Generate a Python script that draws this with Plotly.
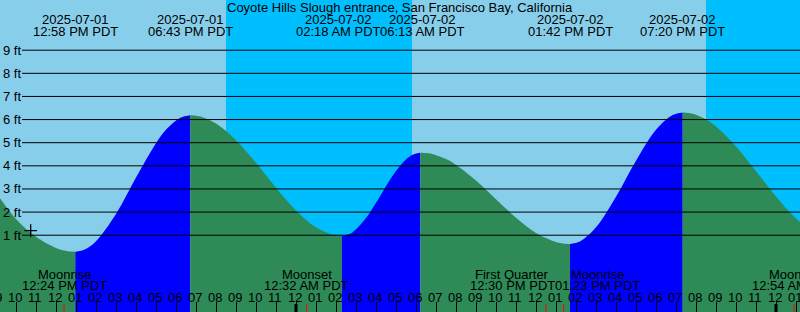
import pandas as pd
import plotly.graph_objects as go

TITLE = "Coyote Hills Slough entrance, San Francisco Bay, California"

# Tide height readings (ft) taken off the chart
tide_times = [
    "2025-07-01 09:00", "2025-07-01 10:00", "2025-07-01 11:00", "2025-07-01 12:00",
    "2025-07-01 12:28", "2025-07-01 12:58", "2025-07-01 13:28", "2025-07-01 14:00",
    "2025-07-01 15:00", "2025-07-01 16:00", "2025-07-01 17:00", "2025-07-01 17:30",
    "2025-07-01 18:13", "2025-07-01 18:43", "2025-07-01 19:13", "2025-07-01 20:00",
    "2025-07-01 21:00", "2025-07-01 22:00", "2025-07-01 23:00", "2025-07-02 00:00",
    "2025-07-02 01:00", "2025-07-02 01:48", "2025-07-02 02:18", "2025-07-02 02:48",
    "2025-07-02 03:30", "2025-07-02 04:00", "2025-07-02 05:00", "2025-07-02 05:43",
    "2025-07-02 06:13", "2025-07-02 06:43", "2025-07-02 07:30", "2025-07-02 08:00",
    "2025-07-02 09:00", "2025-07-02 10:00", "2025-07-02 11:00", "2025-07-02 12:00",
    "2025-07-02 13:12", "2025-07-02 13:42", "2025-07-02 14:12", "2025-07-02 15:00",
    "2025-07-02 16:00", "2025-07-02 17:00", "2025-07-02 18:00", "2025-07-02 18:50",
    "2025-07-02 19:20", "2025-07-02 19:50", "2025-07-02 20:30", "2025-07-02 21:00",
    "2025-07-02 22:00", "2025-07-02 23:00", "2025-07-03 00:00", "2025-07-03 01:00",
    "2025-07-03 02:00",
]
tide_heights = [
    2.85, 1.70, 0.93, 0.45,
    0.33, 0.28, 0.39, 0.74,
    1.92, 3.49, 4.98, 5.56,
    6.08, 6.19, 6.13, 5.83,
    5.11, 4.13, 3.05, 2.07,
    1.34, 1.03, 0.97, 1.11,
    1.74, 2.40, 3.78, 4.43,
    4.57, 4.53, 4.29, 4.04,
    3.37, 2.56, 1.76, 1.10,
    0.66, 0.62, 0.73, 1.34,
    2.66, 4.22, 5.56, 6.20,
    6.31, 6.25, 6.00, 5.70,
    4.84, 3.77, 2.67, 1.72,
    1.09,
]

# High / low tide events
extreme_times = ["2025-07-01 12:58", "2025-07-01 18:43", "2025-07-02 02:18",
                 "2025-07-02 06:13", "2025-07-02 13:42", "2025-07-02 19:20"]
extreme_dates = ["2025-07-01", "2025-07-01", "2025-07-02",
                 "2025-07-02", "2025-07-02", "2025-07-02"]
extreme_labels = ["12:58 PM PDT", "06:43 PM PDT", "02:18 AM PDT",
                  "06:13 AM PDT", "01:42 PM PDT", "07:20 PM PDT"]
extreme_shift = [0, 0, -4, 2, 0, 0]

# Night periods (sunset -> sunrise / end of chart)
night_start = ["2025-07-01 20:30", "2025-07-02 20:30"]
night_end = ["2025-07-02 05:48", "2025-07-03 01:12"]

# Moon events
moon_times = ["2025-07-01 12:24", "2025-07-02 00:32", "2025-07-02 12:30",
              "2025-07-02 13:23", "2025-07-03 00:54"]
moon_names = ["Moonrise", "Moonset", "First Quarter", "Moonrise", "Moonset"]
moon_labels = ["12:24 PM PDT", "12:32 AM PDT", "12:30 PM PDT",
               "01:23 PM PDT", "12:54 AM PDT"]
moon_shift = [0, 0, -34, 34, 0]

midnights = ["2025-07-02 00:00", "2025-07-03 00:00"]
marker_time = ["2025-07-01 10:44"]
marker_height = [1.2]

ft_levels = [1, 2, 3, 4, 5, 6, 7, 8, 9]
ft_labels = ["1 ft", "2 ft", "3 ft", "4 ft", "5 ft", "6 ft", "7 ft", "8 ft", "9 ft"]

hour_ticks_start = "2025-07-01 09:00"
hour_ticks_end = "2025-07-03 01:00"

X_RANGE = ["2025-07-01 09:12", "2025-07-03 01:12"]
Y_RANGE = [-2.32, 11.17]

DAY = "#87CEEB"
NIGHT = "#00BFFF"
EBB = "#2E8B57"
FLOOD = "#0000FF"
FONT = "Liberation Sans, Arial, sans-serif"
FS = 13

# ---- build curve segments (split at each high / low) ----
pts = pd.DataFrame({"t": pd.to_datetime(tide_times), "h": tide_heights})
ext_t = set(pd.to_datetime(extreme_times))
ext_idx = [i for i, t in enumerate(pts["t"]) if t in ext_t]
bounds = [0] + ext_idx + [len(pts) - 1]

fig = go.Figure()
for i in range(len(bounds) - 1):
    seg = pts.iloc[bounds[i]:bounds[i + 1] + 1]
    rising = seg["h"].iloc[-1] > seg["h"].iloc[0]
    color = FLOOD if rising else EBB
    fig.add_trace(go.Scatter(
        x=[seg["t"].iloc[0], seg["t"].iloc[-1]], y=[-5, -5],
        mode="lines", line=dict(width=0, color=color), hoverinfo="skip"))
    fig.add_trace(go.Scatter(
        x=seg["t"], y=seg["h"], mode="lines",
        line=dict(width=0, color=color, shape="spline", smoothing=1.0),
        fill="tonexty", fillcolor=color, hoverinfo="skip"))

fig.add_trace(go.Scatter(
    x=marker_time, y=marker_height, mode="markers",
    marker=dict(symbol="cross-thin", size=9, line=dict(width=1.3, color="black")),
    hoverinfo="skip"))

shapes = []
for s, e in zip(night_start, night_end):
    shapes.append(dict(type="rect", xref="x", yref="paper", x0=s, x1=e, y0=0, y1=1,
                       fillcolor=NIGHT, line=dict(width=0), layer="below"))
for lv in ft_levels:
    shapes.append(dict(type="line", xref="paper", yref="y", x0=22 / 800, x1=1, y0=lv, y1=lv,
                       line=dict(color="black", width=1), layer="above"))
for m in midnights:
    shapes.append(dict(type="line", xref="x", yref="paper", x0=m, x1=m, y0=0, y1=8 / 312,
                       line=dict(color="black", width=3), layer="above"))
for m in moon_times:
    shapes.append(dict(type="line", xref="x", yref="paper", x0=m, x1=m, y0=0, y1=8 / 312,
                       line=dict(color="red", width=1), layer="above"))

ann = []
ann.append(dict(text=TITLE, x=0.5, y=1 - 7.5 / 312, xref="paper", yref="paper",
                showarrow=False, xanchor="center", yanchor="middle"))
for t, d, lab, sh in zip(extreme_times, extreme_dates, extreme_labels, extreme_shift):
    ann.append(dict(text=d, x=t, y=1 - 19.5 / 312, xref="x", yref="paper", xshift=sh,
                    showarrow=False, xanchor="center", yanchor="middle"))
    ann.append(dict(text=lab, x=t, y=1 - 32 / 312, xref="x", yref="paper", xshift=sh,
                    showarrow=False, xanchor="center", yanchor="middle"))
for t, n, lab, sh in zip(moon_times, moon_names, moon_labels, moon_shift):
    ann.append(dict(text=n, x=t, y=1 - 274 / 312, xref="x", yref="paper", xshift=sh,
                    showarrow=False, xanchor="center", yanchor="middle"))
    ann.append(dict(text=lab, x=t, y=1 - 285 / 312, xref="x", yref="paper", xshift=sh,
                    showarrow=False, xanchor="center", yanchor="middle"))
for lv, lab in zip(ft_levels, ft_labels):
    ann.append(dict(text=lab, x=0, y=lv, xref="paper", yref="y", xshift=1,
                    showarrow=False, xanchor="left", yanchor="middle"))

# hour labels along the bottom (the first one sits partly off the left edge)
x_lo, x_hi = pd.to_datetime(X_RANGE[0]), pd.to_datetime(X_RANGE[1])
for h in pd.date_range(hour_ticks_start, hour_ticks_end, freq="h"):
    if x_lo <= h <= x_hi:
        xref, xv = "x", h.strftime("%Y-%m-%d %H:%M")
    else:
        xref, xv = "paper", (h - x_lo) / (x_hi - x_lo)
    ann.append(dict(text=h.strftime("%I"), x=xv, y=1 - 297.5 / 312, xref=xref, yref="paper",
                    xshift=-1, showarrow=False, xanchor="center", yanchor="middle"))

fig.update_layout(
    width=800, height=312,
    margin=dict(l=0, r=0, t=0, b=0),
    paper_bgcolor=DAY, plot_bgcolor=DAY,
    showlegend=False,
    font=dict(family=FONT, size=FS, color="black"),
    shapes=shapes, annotations=ann,
    xaxis=dict(type="date", range=X_RANGE, showgrid=False, zeroline=False, showline=False,
               ticks="inside", ticklen=10, tickwidth=1, tickcolor="black",
               tick0="2025-07-01 00:00", dtick=3600000, showticklabels=False),
    yaxis=dict(range=Y_RANGE, visible=False, fixedrange=True),
)

fig.write_html("out.html")
